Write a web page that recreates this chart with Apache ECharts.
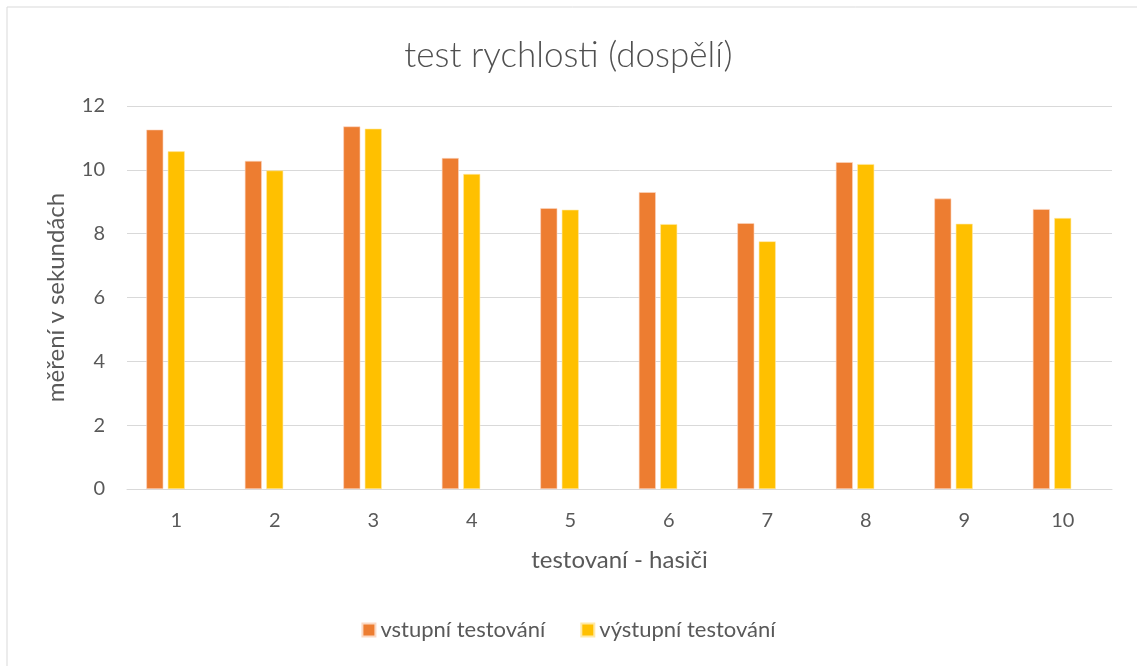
<!DOCTYPE html>
<html>
<head>
<meta charset="utf-8">
<script src="https://cdn.jsdelivr.net/npm/echarts@6/dist/echarts.min.js"></script>
<style>
html,body{margin:0;padding:0;background:#fff;}
#chart{width:1137px;height:666px;}
</style>
</head>
<body>
<div id="chart"></div>
<script>
// data
var categories = ['1','2','3','4','5','6','7','8','9','10'];
var vstupni = [11.26, 10.28, 11.36, 10.37, 8.8, 9.3, 8.33, 10.24, 9.1, 8.77];
var vystupni = [10.58, 9.98, 11.29, 9.87, 8.75, 8.3, 7.76, 10.18, 8.31, 8.49];
var prazdna = []; // empty third series in the source sheet, keeps its slot
var yTicks = [0, 2, 4, 6, 8, 10, 12];

var fontFam = 'Lato, "Open Sans", sans-serif';
var textCol = '#595959';

var myChart = echarts.init(document.getElementById('chart'));
myChart.setOption({
    animation:false,
    backgroundColor:'#fff',
    graphic:[{
        type:'rect',
        shape:{x:7, y:7, width:1140, height:670},
        style:{fill:'none', stroke:'#d9d9d9', lineWidth:1},
        silent:true
    }],
    title:{
        text:'test rychlosti (dospělí)',
        left:'center',
        top:33,
        textStyle:{fontFamily:fontFam, fontSize:35, fontWeight:300, color:'#505050'}
    },
    legend:{
        bottom:20,
        left:'center',
        itemWidth:13,
        itemHeight:13,
        itemGap:35,
        icon:'rect',
        textStyle:{fontFamily:fontFam, fontSize:22, color:textCol},
        data:['vstupní testování','výstupní testování']
    },
    grid:{left:127, right:25, top:106, bottom:177, containLabel:false},
    xAxis:{
        type:'category',
        data:categories,
        name:'testovaní - hasiči',
        nameLocation:'middle',
        nameGap:59,
        nameTextStyle:{fontFamily:fontFam, fontSize:24, color:textCol},
        axisLine:{lineStyle:{color:'#d9d9d9', width:1}},
        axisTick:{show:false},
        axisLabel:{fontFamily:fontFam, fontSize:20, color:textCol, margin:22}
    },
    yAxis:{
        type:'value',
        min:0,
        max:12,
        interval:2,
        name:'měření v sekundách',
        nameLocation:'middle',
        nameGap:59,
        nameTextStyle:{fontFamily:fontFam, fontSize:24, color:textCol},
        axisLine:{show:false},
        axisTick:{show:false},
        axisLabel:{
            fontFamily:fontFam, fontSize:20, color:textCol, margin:22,
            formatter:function(v){ return yTicks.indexOf(v) >= 0 ? String(v) : ''; }
        },
        splitLine:{lineStyle:{color:'#d9d9d9', width:1}}
    },
    series:[{
        name:'vstupní testování',
        type:'bar',
        data:vstupni,
        barWidth:17,
        barGap:'26%',
        itemStyle:{color:'#ed7d31', borderColor:'#fbd9c4', borderWidth:0.6}
    },{
        name:'výstupní testování',
        type:'bar',
        data:vystupni,
        barWidth:17,
        itemStyle:{color:'#ffc000', borderColor:'#ffe9a6', borderWidth:0.6}
    },{
        name:'prazdna',
        type:'bar',
        data:prazdna,
        barWidth:17,
        itemStyle:{color:'#a5a5a5'}
    }]
});
</script>
</body>
</html>
